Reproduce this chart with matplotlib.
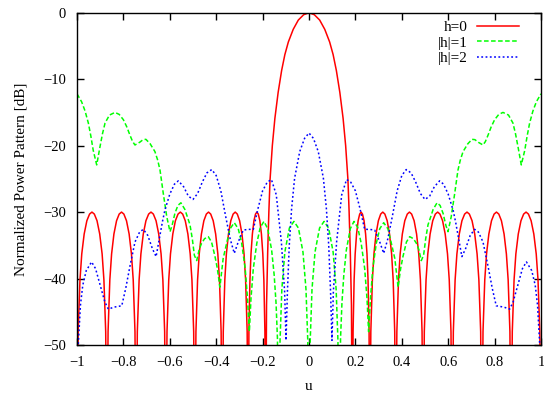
import matplotlib
matplotlib.use("Agg")
import matplotlib.pyplot as plt

plt.rcParams["font.family"] = ["Liberation Serif", "DejaVu Serif"]
plt.rcParams["axes.unicode_minus"] = True

# h=0 pattern (nulls below the -50 dB floor)
u_h0 = [-1.0, -0.9948, -0.9871, -0.9794, -0.969, -0.9574, -0.9458, -0.9355, -0.9252, -0.9136, -0.902, -0.8916, -0.8839, -0.8762,
        -0.871, -0.866, -0.8584, -0.8508, -0.8408, -0.8294, -0.8181, -0.808, -0.7979, -0.7866, -0.7752, -0.7652, -0.7576, -0.75,
        -0.745, -0.7399, -0.7322, -0.7245, -0.7143, -0.7028, -0.6912, -0.681, -0.6708, -0.6592, -0.6477, -0.6375, -0.6298, -0.6221,
        -0.617, -0.612, -0.6045, -0.597, -0.587, -0.5758, -0.5645, -0.5545, -0.5445, -0.5333, -0.522, -0.512, -0.5045, -0.497,
        -0.492, -0.4873, -0.4802, -0.4731, -0.4637, -0.4531, -0.4424, -0.433, -0.4236, -0.4129, -0.4023, -0.3929, -0.3858, -0.3787,
        -0.374, -0.3695, -0.3628, -0.3561, -0.3471, -0.337, -0.327, -0.318, -0.309, -0.299, -0.2889, -0.2799, -0.2732, -0.2665,
        -0.262, -0.259, -0.2545, -0.25, -0.244, -0.2373, -0.2305, -0.2245, -0.2185, -0.2118, -0.205, -0.199, -0.1945, -0.19,
        -0.187, -0.183, -0.178, -0.173, -0.168, -0.158, -0.147, -0.133, -0.118, -0.104, -0.089, -0.068, -0.046, -0.023, 0.0,
        0.023, 0.046, 0.068, 0.089, 0.104, 0.118, 0.133, 0.147, 0.158, 0.168, 0.173, 0.178, 0.183, 0.187,
        0.19, 0.1945, 0.199, 0.205, 0.2118, 0.2185, 0.2245, 0.2305, 0.2373, 0.244, 0.25, 0.2545, 0.259, 0.262,
        0.2665, 0.2732, 0.2799, 0.2889, 0.299, 0.309, 0.318, 0.327, 0.337, 0.3471, 0.3561, 0.3628, 0.3695, 0.374,
        0.3787, 0.3858, 0.3929, 0.4023, 0.4129, 0.4236, 0.433, 0.4424, 0.4531, 0.4637, 0.4731, 0.4802, 0.4873, 0.492,
        0.497, 0.5045, 0.512, 0.522, 0.5333, 0.5445, 0.5545, 0.5645, 0.5758, 0.587, 0.597, 0.6045, 0.612, 0.617,
        0.6221, 0.6298, 0.6375, 0.6477, 0.6592, 0.6708, 0.681, 0.6912, 0.7028, 0.7143, 0.7245, 0.7322, 0.7399, 0.745,
        0.75, 0.7576, 0.7652, 0.7752, 0.7866, 0.7979, 0.808, 0.8181, 0.8294, 0.8408, 0.8508, 0.8584, 0.866, 0.871,
        0.8762, 0.8839, 0.8916, 0.902, 0.9136, 0.9252, 0.9355, 0.9458, 0.9574, 0.969, 0.9794, 0.9871, 0.9948, 1.0]
db_h0 = [-70, -48, -40.2, -36.3, -33.3, -31.3, -30.3, -30, -30.3, -31.3, -33.3, -36.3, -40.2, -48,
         -70, -48, -40.2, -36.3, -33.3, -31.3, -30.3, -30, -30.3, -31.3, -33.3, -36.3, -40.2, -48,
         -70, -48, -40.2, -36.3, -33.3, -31.3, -30.3, -30, -30.3, -31.3, -33.3, -36.3, -40.2, -48,
         -70, -48, -40.2, -36.3, -33.3, -31.3, -30.3, -30, -30.3, -31.3, -33.3, -36.3, -40.2, -48,
         -70, -48, -40.2, -36.3, -33.3, -31.3, -30.3, -30, -30.3, -31.3, -33.3, -36.3, -40.2, -48,
         -70, -48, -40.2, -36.3, -33.3, -31.3, -30.3, -30, -30.3, -31.3, -33.3, -36.3, -40.2, -48,
         -70, -48, -40.2, -36.3, -33.3, -31.3, -30.3, -30, -30.3, -31.3, -33.3, -36.3, -40.2, -48,
         -70, -44, -36, -30, -25.2, -20, -15.9, -12, -8.7, -6.3, -4.4, -2.5, -1.1, -0.3, 0.0,
         -0.3, -1.1, -2.5, -4.4, -6.3, -8.7, -12, -15.9, -20, -25.2, -30, -36, -44, -70,
         -48, -40.2, -36.3, -33.3, -31.3, -30.3, -30, -30.3, -31.3, -33.3, -36.3, -40.2, -48, -70,
         -48, -40.2, -36.3, -33.3, -31.3, -30.3, -30, -30.3, -31.3, -33.3, -36.3, -40.2, -48, -70,
         -48, -40.2, -36.3, -33.3, -31.3, -30.3, -30, -30.3, -31.3, -33.3, -36.3, -40.2, -48, -70,
         -48, -40.2, -36.3, -33.3, -31.3, -30.3, -30, -30.3, -31.3, -33.3, -36.3, -40.2, -48, -70,
         -48, -40.2, -36.3, -33.3, -31.3, -30.3, -30, -30.3, -31.3, -33.3, -36.3, -40.2, -48, -70,
         -48, -40.2, -36.3, -33.3, -31.3, -30.3, -30, -30.3, -31.3, -33.3, -36.3, -40.2, -48, -70,
         -48, -40.2, -36.3, -33.3, -31.3, -30.3, -30, -30.3, -31.3, -33.3, -36.3, -40.2, -48, -70]

# |h|=1 pattern
u_h1 = [-1.0, -0.98, -0.965, -0.951, -0.94, -0.93, -0.915, -0.901, -0.89, -0.879,
        -0.86, -0.836, -0.818, -0.80, -0.785, -0.772, -0.76, -0.75, -0.73, -0.715,
        -0.703, -0.685, -0.664, -0.652, -0.642, -0.628, -0.613, -0.599, -0.59, -0.578,
        -0.565, -0.552, -0.535, -0.52, -0.513, -0.503, -0.494, -0.484, -0.473, -0.463,
        -0.45, -0.434, -0.42, -0.405, -0.395, -0.384, -0.37, -0.355, -0.34, -0.322,
        -0.305, -0.29, -0.275, -0.265, -0.257, -0.25, -0.24, -0.225, -0.21, -0.194,
        -0.178, -0.161, -0.15, -0.142, -0.136, -0.13, -0.1248, -0.117, -0.104, -0.0845,
        -0.065, -0.0455, -0.026, -0.013, -0.0052, 0.0,
        0.0052, 0.013, 0.026, 0.0455, 0.065, 0.0845, 0.104, 0.117, 0.1248, 0.13,
        0.136, 0.142, 0.15, 0.161, 0.178, 0.194, 0.21, 0.225, 0.24, 0.25,
        0.257, 0.265, 0.275, 0.29, 0.305, 0.322, 0.34, 0.355, 0.37, 0.384,
        0.395, 0.405, 0.42, 0.434, 0.45, 0.463, 0.473, 0.484, 0.494, 0.503,
        0.513, 0.52, 0.535, 0.552, 0.565, 0.578, 0.59, 0.599, 0.613, 0.628,
        0.642, 0.652, 0.664, 0.685, 0.703, 0.715, 0.73, 0.75, 0.76, 0.772,
        0.785, 0.80, 0.818, 0.836, 0.86, 0.879, 0.89, 0.901, 0.915, 0.93,
        0.94, 0.951, 0.965, 0.98, 1.0]
db_h1 = [-12.2, -13.4, -14.8, -16.6, -18.6, -20.7, -22.9, -20.2, -18.2, -16.6,
         -15.4, -15.0, -15.3, -16.1, -17.2, -18.4, -19.4, -19.9, -19.5, -19.1,
         -19.05, -19.7, -20.9, -22.2, -23.7, -27.2, -30.7, -32.95, -32.0, -30.2,
         -29.0, -28.6, -29.6, -31.2, -31.9, -34.0, -36.5, -37.3, -35.6, -34.7,
         -34.0, -33.7, -34.5, -36.7, -38.5, -41.3, -37.0, -34.7, -32.5, -31.6,
         -32.5, -34.7, -38.5, -43.0, -48.0, -43.0, -38.5, -34.7, -32.3, -31.4,
         -32.5, -35.7, -39.5, -43.7, -49.0, -70.0, -49.4, -41.6, -36.0, -32.4,
         -31.4, -32.4, -36.0, -41.6, -49.4, -70.0,
         -49.4, -41.6, -36.0, -32.4, -31.4, -32.4, -36.0, -41.6, -49.4, -70.0,
         -49.0, -43.7, -39.5, -35.7, -32.5, -31.4, -32.3, -34.7, -38.5, -43.0,
         -48.0, -43.0, -38.5, -34.7, -32.5, -31.6, -32.5, -34.7, -37.0, -41.3,
         -38.5, -36.7, -34.5, -33.7, -34.0, -34.7, -35.6, -37.3, -36.5, -34.0,
         -31.9, -31.2, -29.6, -28.6, -29.0, -30.2, -32.0, -32.95, -30.7, -27.2,
         -23.7, -22.2, -20.9, -19.7, -19.05, -19.1, -19.5, -19.9, -19.4, -18.4,
         -17.2, -16.1, -15.3, -15.0, -15.4, -16.6, -18.2, -20.2, -22.9, -20.7,
         -18.6, -16.6, -14.8, -13.4, -12.2]

# |h|=2 pattern
u_h2 = [-1.0, -0.994, -0.985, -0.975, -0.96, -0.937, -0.92, -0.9, -0.88, -0.865,
        -0.84, -0.807, -0.79, -0.772, -0.75, -0.73, -0.714, -0.695, -0.675, -0.659,
        -0.645, -0.632, -0.621, -0.6, -0.58, -0.563, -0.54, -0.52, -0.5, -0.48,
        -0.46, -0.44, -0.419, -0.4, -0.38, -0.36, -0.34, -0.322, -0.305, -0.283,
        -0.26, -0.24, -0.22, -0.2, -0.18, -0.162, -0.141, -0.119, -0.105, -0.099,
        -0.093, -0.085, -0.075, -0.062, -0.04, -0.019, 0.0,
        0.019, 0.04, 0.062, 0.075, 0.085, 0.093, 0.099, 0.105, 0.119, 0.141,
        0.162, 0.18, 0.2, 0.22, 0.24, 0.26, 0.283, 0.305, 0.322, 0.34,
        0.36, 0.38, 0.4, 0.419, 0.44, 0.46, 0.48, 0.5, 0.52, 0.54,
        0.563, 0.58, 0.6, 0.621, 0.632, 0.645, 0.659, 0.675, 0.695, 0.714,
        0.73, 0.75, 0.772, 0.79, 0.807, 0.84, 0.865, 0.88, 0.9, 0.92,
        0.937, 0.96, 0.975, 0.985, 0.994, 1.0]
db_h2 = [-55, -49.7, -44, -41, -38.8, -37.5, -38.5, -41, -43.5, -44.6,
         -44.3, -44.1, -41.5, -38.2, -34.5, -33, -32.6, -33.5, -35.5, -36.7,
         -34, -31.5, -29.7, -27.3, -25.8, -25.3, -26.2, -27.6, -28.1, -27.2,
         -25.5, -24.1, -23.6, -24.5, -26.8, -30.5, -34, -36.2, -34.5, -32.7,
         -32.6, -32.6, -29.5, -26.8, -25.5, -25.1, -27.4, -34.5, -42, -49.3,
         -42, -35, -29.5, -24.9, -20.9, -18.9, -18.1,
         -18.9, -20.9, -24.9, -29.5, -35, -42, -49.3, -42, -34.5, -27.4,
         -25.1, -25.5, -26.8, -29.5, -32.6, -32.6, -32.7, -34.5, -36.2, -34,
         -30.5, -26.8, -24.5, -23.6, -24.1, -25.5, -27.2, -28.1, -27.6, -26.2,
         -25.3, -25.8, -27.3, -29.7, -31.5, -34, -36.7, -35.5, -33.5, -32.6,
         -33, -34.5, -38.2, -41.5, -44.1, -44.3, -44.6, -43.5, -41, -38.5,
         -37.5, -38.8, -41, -44, -49.7, -55]

xticks = [-1, -0.8, -0.6, -0.4, -0.2, 0, 0.2, 0.4, 0.6, 0.8, 1]
xtick_labels = ["\u22121", "\u22120.8", "\u22120.6", "\u22120.4", "\u22120.2", "0",
                "0.2", "0.4", "0.6", "0.8", "1"]
yticks = [0, -10, -20, -30, -40, -50]
ytick_labels = ["0", "\u221210", "\u221220", "\u221230", "\u221240", "\u221250"]

fig = plt.figure(figsize=(5.44, 3.98), dpi=100)
ax = fig.add_axes([0.1415, 0.1332, 0.853, 0.8348])

ax.plot(u_h0, db_h0, color="#ff0000", linewidth=1.1, label="h=0")
ax.plot(u_h1, db_h1, color="#00ff00", linewidth=1.1, linestyle=(0, (3, 1.6)), label="|h|=1")
ax.plot(u_h2, db_h2, color="#0000ff", linewidth=1.1, linestyle=(0, (1.2, 1.6)), label="|h|=2")

ax.set_xlim(-1, 1)
ax.set_ylim(-50, 0)
ax.set_xticks(xticks)
ax.set_xticklabels(xtick_labels)
ax.set_yticks(yticks)
ax.set_yticklabels(ytick_labels)
ax.tick_params(direction="in", top=True, right=True, length=5, width=1,
               labelsize=10.5, pad=8)
for s in ax.spines.values():
    s.set_linewidth(1)

ax.set_xlabel("u", fontsize=11, labelpad=8)
ax.set_ylabel("Normalized Power Pattern [dB]", fontsize=11, labelpad=11)

ax.legend(loc="upper right", frameon=False, markerfirst=False, fontsize=11,
          handlelength=2.75, handletextpad=0.65, labelspacing=0.12,
          borderaxespad=0.1, bbox_to_anchor=(0.97, 1.0))

fig.savefig("out.png", dpi=100)
